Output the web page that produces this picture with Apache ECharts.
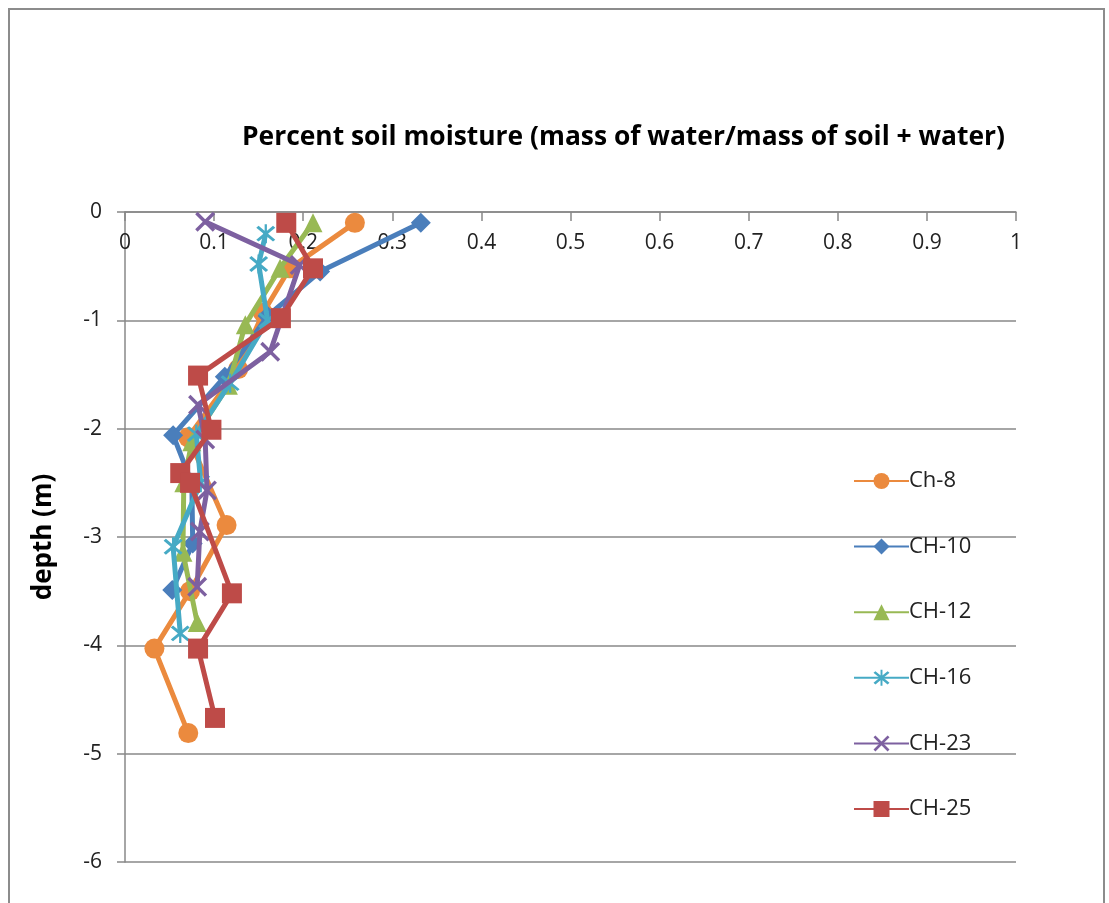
<!DOCTYPE html>
<html>
<head>
<meta charset="utf-8">
<script src="https://cdn.jsdelivr.net/npm/echarts@6/dist/echarts.min.js"></script>
<style>
html,body{margin:0;padding:0;background:#fff;}
#chart{width:1109px;height:903px;}
</style>
</head>
<body>
<div id="chart"></div>
<script>
const xTicks = [0,0.1,0.2,0.3,0.4,0.5,0.6,0.7,0.8,0.9,1];
const yTicks = [0,-1,-2,-3,-4,-5,-6];
const seriesNames = ['Ch-8','CH-10','CH-12','CH-16','CH-23','CH-25'];

const ch8  = [[0.258,-0.10],[0.185,-0.52],[0.155,-0.93],[0.127,-1.45],[0.071,-2.08],[0.114,-2.89],[0.073,-3.50],[0.033,-4.03],[0.071,-4.81]];
const ch10 = [[0.332,-0.10],[0.219,-0.55],[0.160,-0.96],[0.112,-1.52],[0.054,-2.06],[0.075,-2.50],[0.076,-3.06],[0.053,-3.49]];
const ch12 = [[0.211,-0.10],[0.174,-0.52],[0.135,-1.04],[0.116,-1.60],[0.075,-2.12],[0.066,-2.50],[0.065,-3.14],[0.081,-3.79]];
const ch16 = [[0.158,-0.20],[0.150,-0.48],[0.160,-1.00],[0.118,-1.58],[0.080,-2.05],[0.085,-2.50],[0.054,-3.09],[0.062,-3.89]];
const ch23 = [[0.090,-0.09],[0.196,-0.49],[0.163,-1.29],[0.082,-1.78],[0.090,-2.10],[0.092,-2.57],[0.084,-2.95],[0.081,-3.46]];
const ch25 = [[0.181,-0.10],[0.211,-0.52],[0.175,-0.98],[0.082,-1.51],[0.097,-2.01],[0.062,-2.41],[0.073,-2.50],[0.120,-3.52],[0.082,-4.03],[0.101,-4.67]];

const colors = ['#EB8A3E','#4A7EBB','#98B954','#46AAC5','#7D60A0','#BE4B48'];
const xPath = 'path://M0,1.2 L1.2,0 L10,8.8 L8.8,10 Z M8.8,0 L10,1.2 L1.2,10 L0,8.8 Z';
const starPath = 'path://M0,1.2 L1.2,0 L10,8.8 L8.8,10 Z M8.8,0 L10,1.2 L1.2,10 L0,8.8 Z M4.4,-1 L5.6,-1 L5.6,11 L4.4,11 Z';
const symbols = ['circle','diamond','triangle',starPath,xPath,'rect'];
const sizes = [20,20,19,19,20,20];
const datasets = [ch8,ch10,ch12,ch16,ch23,ch25];

const chart = echarts.init(document.getElementById('chart'));
const font = '"Open Sans", "Liberation Sans", sans-serif';
chart.setOption({
  animation:false,
  color:colors,
  graphic:[{type:'rect',shape:{x:9,y:9,width:1095,height:905},style:{fill:'none',stroke:'#8c8c8c',lineWidth:2},silent:true}],
  title:{
    text:'Percent soil moisture (mass of water/mass of soil + water)',
    left:237, top:119,
    textStyle:{fontFamily:font,fontWeight:'bold',fontSize:26.4,color:'#000'}
  },
  legend:{
    orient:'vertical', left:848, top:465,
    itemWidth:55, itemHeight:20, itemGap:43.6,
    textStyle:{fontFamily:font,fontSize:22,color:'#222',padding:[0,0,0,-5]},
    data:seriesNames
  },
  grid:{left:125,top:212,width:891,height:650,containLabel:false},
  xAxis:{
    type:'value', position:'top', min:0, max:1, interval:0.1,
    axisLine:{show:true,onZero:false,lineStyle:{color:'#888',width:1.5}},
    axisTick:{show:true,inside:true,length:9,lineStyle:{color:'#888',width:1.5}},
    axisLabel:{inside:true,margin:21,fontFamily:font,fontSize:21,color:'#222',
      formatter:v=>{const t=xTicks.find(a=>Math.abs(a-v)<1e-9);return t===undefined?'':String(t);}},
    splitLine:{show:false}
  },
  yAxis:{
    type:'value', min:-6, max:0, interval:1,
    name:'depth (m)', nameLocation:'middle', nameGap:68,
    nameTextStyle:{fontFamily:font,fontWeight:'bold',fontSize:26,color:'#000'},
    axisLine:{show:true,onZero:false,lineStyle:{color:'#888',width:1.5}},
    axisTick:{show:true,length:8,lineStyle:{color:'#888',width:1.5}},
    axisLabel:{margin:23,fontFamily:font,fontSize:21,color:'#222',
      formatter:v=>{const t=yTicks.find(a=>Math.abs(a-v)<1e-9);return t===undefined?'':String(t);}},
    splitLine:{show:true,lineStyle:{color:'#888',width:1.5}}
  },
  series:seriesNames.map((n,i)=>({
    name:n, type:'line', data:datasets[i],
    symbol:symbols[i], symbolSize:sizes[i], showAllSymbol:true,
    lineStyle:{width:5,color:colors[i]},
    itemStyle:{color:colors[i]},
    emphasis:{disabled:true},
    z:2+i
  }))
});
</script>
</body>
</html>
